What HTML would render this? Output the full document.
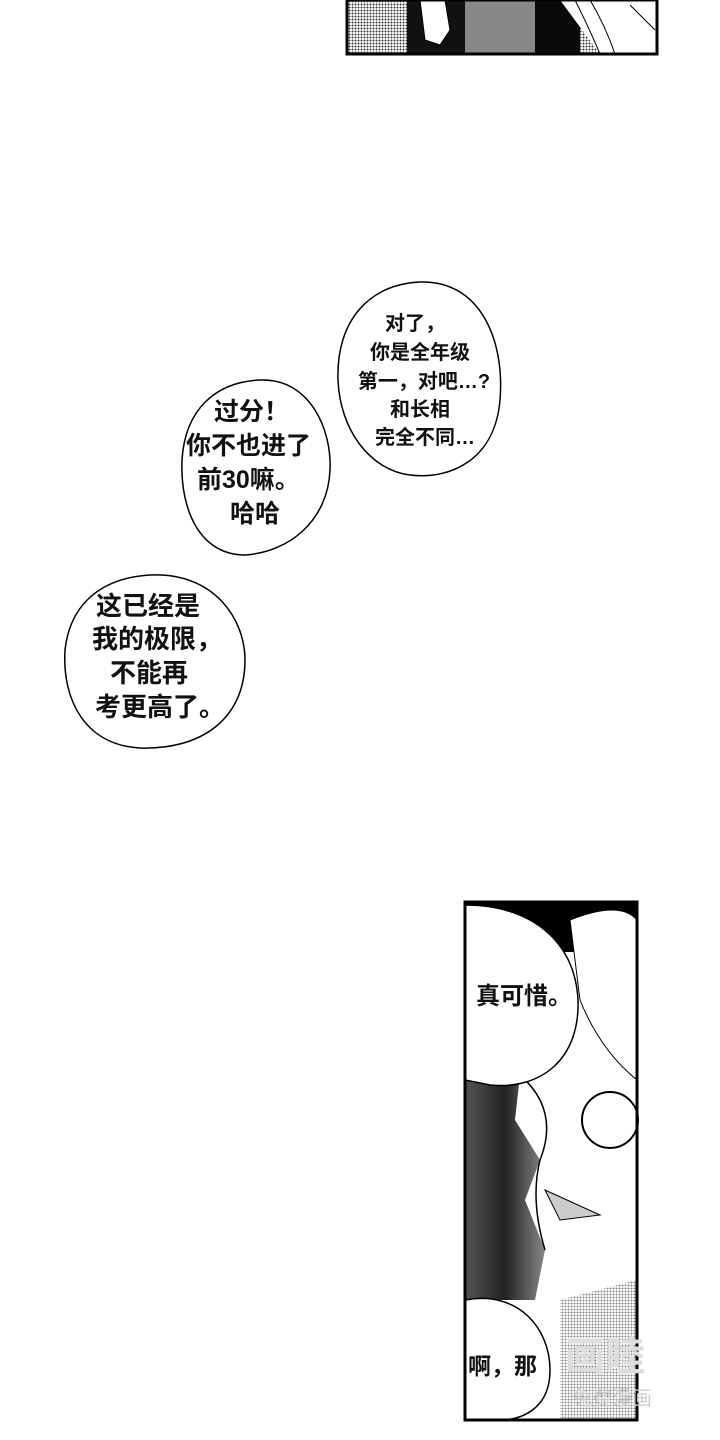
<!DOCTYPE html>
<html><head><meta charset="utf-8"><style>
html,body{margin:0;padding:0;background:#fff;width:720px;height:1440px;overflow:hidden}
svg{display:block}
text{font-family:"Liberation Sans","Noto Sans CJK SC",sans-serif;font-weight:bold;fill:#111}
</style></head><body>
<svg width="720" height="1440" viewBox="0 0 720 1440" xmlns="http://www.w3.org/2000/svg">
<defs>
<pattern id="dots" width="3" height="3" patternUnits="userSpaceOnUse"><rect width="3" height="3" fill="#fff"/><circle cx="1.5" cy="1.5" r="1" fill="#333"/></pattern>
<linearGradient id="dk" x1="0" x2="1"><stop offset="0" stop-color="#555"/><stop offset="0.5" stop-color="#222"/><stop offset="1" stop-color="#888"/></linearGradient>
</defs>
<rect x="347" y="0" width="310" height="54" fill="url(#dots)"/>
<rect x="407" y="0" width="60" height="54" fill="#111"/>
<rect x="465" y="0" width="70" height="54" fill="#888"/>
<rect x="535" y="0" width="45" height="54" fill="#0a0a0a"/>
<path d="M420 0 L445 0 L450 30 L440 45 L425 40 Z" fill="#fff" stroke="#000"/>
<path d="M560 0 L657 0 L657 54 L600 54 Z" fill="#fff"/>
<path d="M575 0 Q590 30 600 54 M590 0 Q605 25 615 54 M630 5 L655 30" stroke="#000" fill="none"/>
<rect x="347" y="0" width="310" height="54" fill="none" stroke="#000" stroke-width="3"/>
<path d="M420 282 C480 280 505 340 500 400 C495 460 450 480 410 475 C370 470 340 430 338 380 C336 320 370 284 420 282 Z" fill="#fff" stroke="#000" stroke-width="1.5"/>
<text font-size="20" text-anchor="middle"><tspan x="415" y="330">对了，</tspan><tspan x="420" y="359">你是全年级</tspan><tspan x="424" y="388">第一，对吧…?</tspan><tspan x="420" y="416">和长相</tspan><tspan x="425" y="444">完全不同…</tspan></text>
<path d="M260 380 C310 378 332 430 330 470 C328 520 290 552 245 555 C200 555 180 510 182 460 C185 410 215 382 260 380 Z" fill="#fff" stroke="#000" stroke-width="1.5"/>
<text font-size="25"><tspan x="214" y="420">过分！</tspan><tspan x="186" y="454">你不也进了</tspan><tspan x="197" y="488">前30嘛。</tspan><tspan x="230" y="522">哈哈</tspan></text>
<path d="M150 575 C215 572 245 620 245 660 C245 720 200 750 140 748 C85 745 62 700 65 650 C70 605 100 578 150 575 Z" fill="#fff" stroke="#000" stroke-width="1.5"/>
<text font-size="26"><tspan x="96" y="615">这已经是</tspan><tspan x="92" y="648">我的极限，</tspan><tspan x="110" y="682">不能再</tspan><tspan x="95" y="716">考更高了。</tspan></text>
<rect x="465" y="902" width="172" height="518" fill="#fff"/>
<rect x="465" y="902" width="172" height="50" fill="#000"/>
<path d="M465 1070 L520 1075 L515 1120 L540 1160 L525 1200 L545 1250 L535 1300 L465 1300 Z" fill="url(#dk)"/>
<path d="M520 1075 Q560 1110 540 1160 Q530 1200 545 1250" stroke="#000" fill="none" stroke-width="1.5"/>
<path d="M570 920 Q620 900 637 920 L637 1080 Q600 1050 580 1000 Z" fill="#fff" stroke="#000"/>
<circle cx="610" cy="1120" r="28" fill="none" stroke="#000" stroke-width="2"/>
<path d="M545 1190 L600 1215 L560 1220 Z" fill="#ccc" stroke="#000"/>
<path d="M560 1300 L637 1280 L637 1420 L560 1420 Z" fill="url(#dots)" opacity="0.6"/>
<path d="M465 905 C530 905 575 940 578 1000 C580 1060 540 1090 490 1085 L465 1080 Z" fill="#fff" stroke="#000" stroke-width="1.5"/>
<text font-size="24" x="476" y="1004">真可惜。</text>
<path d="M465 1300 C520 1290 550 1330 550 1370 C550 1410 520 1420 500 1420 L465 1420 Z" fill="#fff" stroke="#000" stroke-width="1.5"/>
<text font-size="23" x="468" y="1374">啊，那</text>
<rect x="465" y="902" width="172" height="518" fill="none" stroke="#000" stroke-width="3"/>
<text font-size="40" x="565" y="1370" style="fill:#ddd;font-weight:bold">画睦</text>
<text font-size="20" x="572" y="1405" style="fill:#ccc;font-weight:normal">免费漫画</text>
</svg>
</body></html>
